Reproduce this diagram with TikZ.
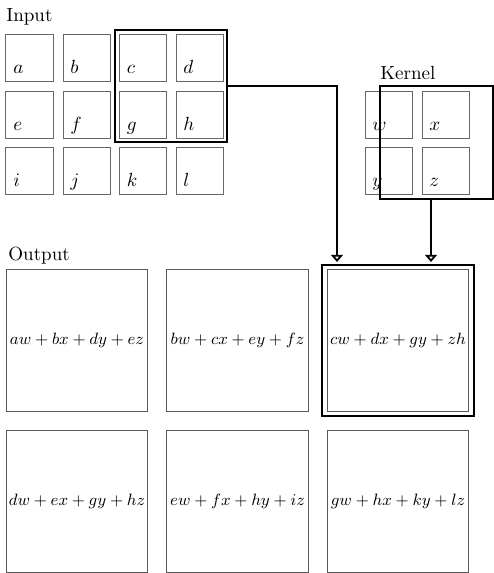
\documentclass[tikz,border=0pt]{standalone}
\usetikzlibrary{arrows.meta,fit}
\newcommand\myeqn[1]{\scalebox{0.957}{$#1$}}
\begin{document}
\begin{tikzpicture}[x=0.525pt,y=-0.525pt,
  cell/.style={draw=black!60,line width=0.5pt,minimum size=24.7pt,inner sep=0pt,outer sep=0pt},
  outcell/.style={draw=black!65,line width=0.5pt,minimum size=74.5pt,inner sep=0pt,outer sep=0pt,font=\small},
  hlbox/.style={draw=black,line width=1.2pt,inner sep=0pt,outer sep=0pt},
  lbl/.style={anchor=base west,inner sep=0pt},
  arr/.style={draw=black,line width=1.1pt,-{Triangle[open,width=6.3pt,length=3.8pt,line width=1pt]}}]
\useasboundingbox (0,0) rectangle (494,573);
% input cells
\foreach \n/\cx/\cy in {a/29.5/57.5,b/86.5/57.5,c/143/57.5,d/199.5/57.5,
                        e/29.5/114.5,f/86.5/114.5,g/143/114.5,h/199.5/114.5,
                        i/29.5/170.5,j/86.5/170.5,k/143/170.5,l/199.5/170.5}{
  \node[cell] (\n) at (\cx,\cy) {};
  \node[lbl] (\n lbl) at ([xshift=3.7pt,yshift=-8.6pt]\n.west) {$\n$};
}
\node[lbl] (inlbl) at (6,21) {Input};
% kernel cells
\foreach \n/\cx/\cy in {w/388.5/114.5,x/445.5/114.5,y/388.5/170.5,z/445.5/170.5}{
  \node[cell] (\n) at (\cx,\cy) {};
  \node[lbl] (\n lbl) at ([xshift=3.7pt,yshift=-8.6pt]\n.west) {$\n$};
}
\node[lbl] (klbl) at (380,79) {Kernel};
% highlight boxes
\node[hlbox,fit=(c)(d)(g)(h),inner sep=2.2pt] (hl) {};
\node[hlbox,minimum width=59.3pt,minimum height=59.3pt] (kr) at (436.5,142.5) {};
% output
\node[lbl] (outlbl) at (8,260) {Output};
\node[outcell] (o1) at (77,340.5) {\myeqn{aw+bx+dy+ez}};
\node[outcell] (o2) at (237.5,340.5) {\myeqn{bw+cx+ey+fz}};
\node[outcell] (o3) at (398,340.5) {\myeqn{cw+dx+gy+zh}};
\node[outcell] (o4) at (77,501.5) {\myeqn{dw+ex+gy+hz}};
\node[outcell] (o5) at (237.5,501.5) {\myeqn{ew+fx+hy+iz}};
\node[outcell] (o6) at (398,501.5) {\myeqn{gw+hx+ky+lz}};
\node[hlbox,minimum width=79.8pt,minimum height=79.3pt] (ohl) at (398,340.5) {};
% arrows
\coordinate (t1) at (337,262);
\coordinate (k1) at (431,199);
\draw[arr] (hl.east) -| (t1);
\draw[arr] (k1) -- (k1 |- t1);
\end{tikzpicture}
\end{document}
